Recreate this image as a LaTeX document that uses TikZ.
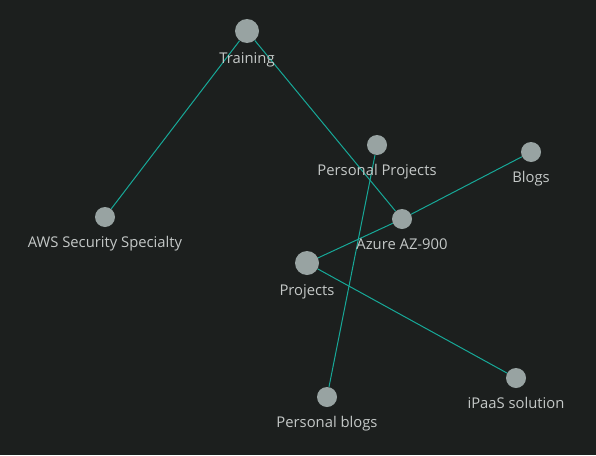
\documentclass[tikz,border=0pt]{standalone}
\usepackage{fontspec}
\setmainfont{Open Sans}
\definecolor{bg}{HTML}{1C1F1E}
\definecolor{dot}{HTML}{98A3A2}
\definecolor{edge}{HTML}{17A898}
\definecolor{lbl}{HTML}{C4C8C7}
\tikzset{
  dotnode/.style={circle,fill=dot,draw=none,inner sep=0pt,minimum size=20pt},
  bigdot/.style={dotnode,minimum size=24pt},
  lab/.style={text=lbl,font=\fontsize{14.8}{15}\selectfont,anchor=base,inner sep=0pt},
  link/.style={draw=edge,line width=1pt}
}
\begin{document}
\begin{tikzpicture}[x=1pt,y=-1pt]
\fill[bg] (0,0) rectangle (596,455);
\useasboundingbox (0,0) rectangle (596,455);
\node[bigdot] (ntraining) at (247,31) {};
\node[dotnode] (naws) at (105,217) {};
\node[dotnode] (npp) at (377,145) {};
\node[dotnode] (nblogs) at (531,152) {};
\node[dotnode] (nazure) at (402,219) {};
\node[bigdot] (nprojects) at (307,263) {};
\node[dotnode] (npblogs) at (327,397) {};
\node[dotnode] (nipaas) at (516,378) {};
\draw[link] (ntraining) -- (naws);
\draw[link] (ntraining) -- (nazure);
\draw[link] (npp) -- (npblogs);
\draw[link] (nprojects) -- (nazure);
\draw[link] (nazure) -- (nblogs);
\draw[link] (nprojects) -- (nipaas);
\node[lab] (ltraining) at (247,63) {Training};
\node[lab] (laws) at (105,247) {AWS Security Specialty};
\node[lab] (lpp) at (377,175) {Personal Projects};
\node[lab] (lblogs) at (531,182) {Blogs};
\node[lab] (lazure) at (402,249) {Azure AZ-900};
\node[lab] (lprojects) at (307,295) {Projects};
\node[lab] (lpblogs) at (327,427) {Personal blogs};
\node[lab] (lipaas) at (516,408) {iPaaS solution};
\end{tikzpicture}
\end{document}
